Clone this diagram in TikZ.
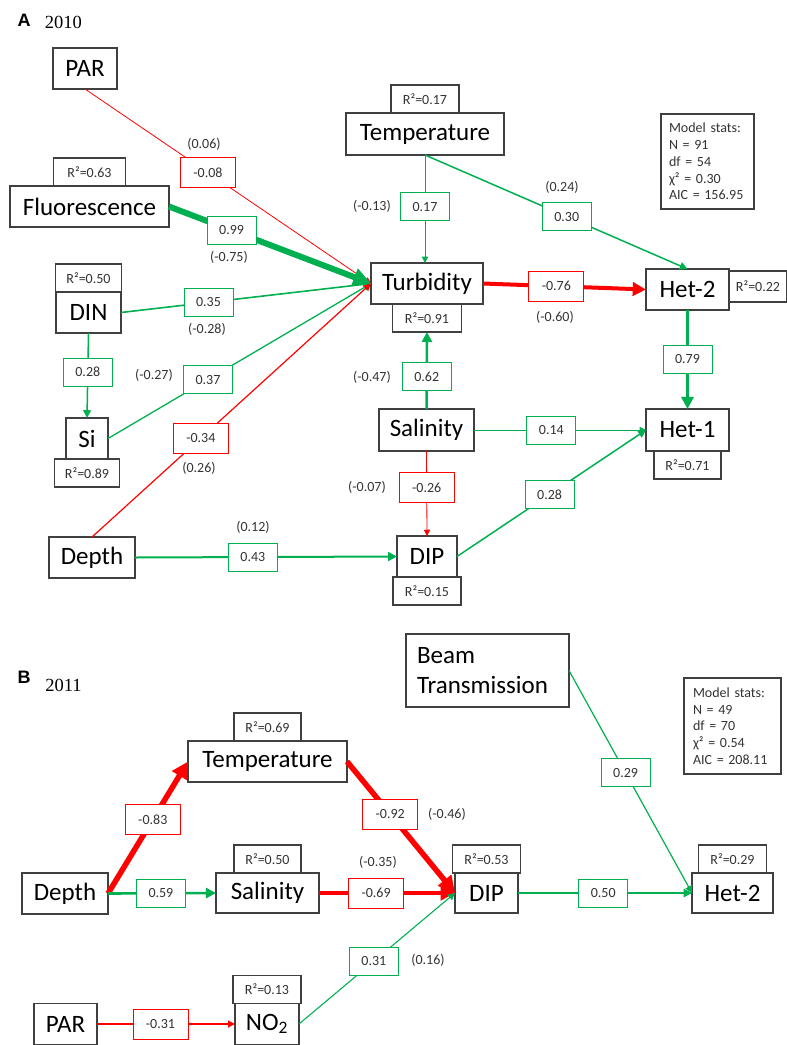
\documentclass[tikz,border=0pt]{standalone}
\usepackage{fontspec}
\setmainfont{Carlito}
\newfontfamily\yearfont{Liberation Serif}
\newfontfamily\panelfont{Liberation Sans}
\usetikzlibrary{arrows.meta,positioning}
\definecolor{pgreen}{RGB}{0,176,80}
\definecolor{pred}{RGB}{255,0,0}
\definecolor{boxline}{RGB}{64,64,64}
\definecolor{numtext}{RGB}{51,51,51}
\tikzset{
  var/.style={draw=boxline,line width=1.2pt,fill=white,inner sep=0pt,outer sep=0pt,minimum height=41pt,font=\fontsize{25}{30}\selectfont},
  rsq/.style={draw=boxline,line width=1.2pt,fill=white,inner sep=0pt,outer sep=0pt,minimum height=28pt,font=\fontsize{14}{16}\selectfont,text=numtext},
  gcoef/.style={draw=pgreen,line width=0.9pt,fill=white,inner sep=0pt,minimum width=49pt,minimum height=28pt,font=\fontsize{14}{16}\selectfont,text=numtext},
  rcoef/.style={gcoef,draw=pred,minimum width=55pt,minimum height=30pt},
  alt/.style={font=\fontsize{14}{16}\selectfont,text=numtext},
  stats/.style={draw=boxline,line width=1.2pt,inner xsep=8pt,text width=77pt,minimum height=95pt,align=left,font=\fontsize{14}{16.8}\selectfont,text=numtext},
  gpath/.style={draw=pgreen,-{Triangle[length=4.5pt 2.2 0,width=4.5pt 2.2 0]}},
  rpath/.style={draw=pred,-{Triangle[length=4.5pt 2.2 0,width=4.5pt 2.2 0]}}
}
\begin{document}
\begin{tikzpicture}[x=1pt,y=-1pt]
  \useasboundingbox (0,0) rectangle (787,1045);

  % panel A
  \node[font=\panelfont\bfseries\fontsize{18}{18}\selectfont] (labA) at (24,20.5) {A};
  \node[font=\yearfont\fontsize{18.5}{18.5}\selectfont] (yearA) at (63.5,22) {2010};

  \node[var,minimum width=64pt] (parA) at (85,68.5) {PAR};
  \node[var,minimum width=159pt] (fluor) at (89.5,206.5) {Fluorescence};
  \node[rsq,minimum width=72pt,above=0pt of fluor] (r2fluor) {R²=0.63};
  \node[var,minimum width=158pt,minimum height=42pt] (temp) at (425,134) {Temperature};
  \node[rsq,minimum width=68pt,above=0pt of temp] (r2temp) {R²=0.17};
  \node[var,minimum width=112pt] (turb) at (427,283.5) {Turbidity};
  \node[rsq,minimum width=69pt,below=0pt of turb] (r2turb) {R²=0.91};
  \node[var,minimum width=83pt] (het2) at (687.5,289.5) {Het-2};
  \node[rsq,minimum width=58pt,minimum height=31pt,right=0pt of het2,yshift=3pt] (r2het2) {R²=0.22};
  \node[var,minimum width=65pt] (din) at (88.5,312.5) {DIN};
  \node[rsq,minimum width=66pt,above=0pt of din] (r2din) {R²=0.50};
  \node[var,minimum width=42pt] (si) at (87,438.5) {Si};
  \node[rsq,minimum width=65pt,below=0pt of si] (r2si) {R²=0.89};
  \node[var,minimum width=86pt] (depthA) at (92,557.5) {Depth};
  \node[var,minimum width=95pt,minimum height=42pt] (sal) at (426.5,430) {Salinity};
  \node[var,minimum width=83pt,minimum height=42pt] (het1) at (687.5,430) {Het-1};
  \node[rsq,minimum width=67pt,below=0pt of het1] (r2het1) {R²=0.71};
  \node[var,minimum width=60pt] (dipA) at (427,556.5) {DIP};
  \node[rsq,minimum width=68pt,below=0pt of dipA] (r2dipA) {R²=0.15};
  \node[stats] (statsA) at (707.5,161.5) {Model stats:\\N = 91\\df = 54\\χ² = 0.30\\AIC = 156.95};

  \draw[rpath,line width=0.8pt] (parA.south) -- node[rcoef,pos=.43] (cParTurb) {-0.08} (turb.west);
  \draw[gpath,line width=6pt] (fluor.east) -- node[gcoef,pos=.31] (cFluTurb) {0.99} (turb.west);
  \draw[gpath,line width=1.6pt] (din.east) -- node[gcoef,pos=.35] (cDinTurb) {0.35} (turb.west);
  \draw[gpath,line width=1.3pt] (si.east) -- node[gcoef,pos=.38] (cSiTurb) {0.37} (turb.west);
  \draw[rpath,line width=1.2pt] (depthA.north) -- node[rcoef,pos=.39] (cDepTurb) {-0.34} (turb.west);
  \draw[gpath,line width=1.5pt] (din.south) -- node[gcoef,pos=.46] (cDinSi) {0.28} (si.north);
  \draw[gpath,line width=0.8pt] (temp.south) -- node[gcoef,pos=.48] (cTempTurb) {0.17} (temp.south |- turb.north);
  \draw[gpath,line width=1.5pt] (temp.south) -- node[gcoef,pos=.54] (cTempHet) {0.30} (het2.north);
  \draw[rpath,line width=4pt] (turb.east) -- node[rcoef,pos=.45] (cTurbHet) {-0.76} (het2.west);
  \draw[gpath,line width=3.5pt] (het2.south) -- node[gcoef,pos=.5] (cHetHet) {0.79} (het1.north);
  \draw[gpath,line width=2.5pt] (sal.north) -- node[gcoef,pos=.42] (cSalTurb) {0.62} (r2turb.south);
  \draw[gpath,line width=0.8pt] (sal.east) -- node[gcoef,pos=.45] (cSalHet) {0.14} (het1.west);
  \draw[rpath,line width=0.8pt] (sal.south) -- node[rcoef,pos=.43] (cSalDip) {-0.26} (dipA.north);
  \draw[gpath,line width=1.5pt] (dipA.east) -- node[gcoef,pos=.49] (cDipHet) {0.28} (het1.west);
  \draw[gpath,line width=2pt] (depthA.east) -- node[gcoef,pos=.45] (cDepDip) {0.43} (dipA.west);

  \node[alt] (aParTurb) at (204,144) {(0.06)};
  \node[alt] (aFluTurb) at (229,257) {(-0.75)};
  \node[alt] (aTempTurb) at (372,206) {(-0.13)};
  \node[alt] (aTempHet) at (562,187) {(0.24)};
  \node[alt] (aTurbHet) at (555,317) {(-0.60)};
  \node[alt] (aDinTurb) at (207,329) {(-0.28)};
  \node[alt] (aSiTurb) at (154,375) {(-0.27)};
  \node[alt] (aDepTurb) at (199,468) {(0.26)};
  \node[alt] (aDepDip) at (253,527) {(0.12)};
  \node[alt] (aSalTurb) at (372,377) {(-0.47)};
  \node[alt] (aSalDip) at (367,487) {(-0.07)};

  % panel B
  \node[font=\panelfont\bfseries\fontsize{18}{18}\selectfont] (labB) at (24,677) {B};
  \node[font=\yearfont\fontsize{18.5}{18.5}\selectfont] (yearB) at (63.5,685) {2011};

  \node[var,minimum width=163pt,minimum height=73pt,text width=141pt,inner xsep=11pt,align=left] (beam) at (487.5,670.5) {Beam\\Transmission};
  \node[stats,text width=79pt,inner xsep=9pt,minimum height=96pt] (statsB) at (732.5,726) {Model stats:\\N = 49\\df = 70\\χ² = 0.54\\AIC = 208.11};
  \node[var,minimum width=159pt] (tempB) at (267.5,761.5) {Temperature};
  \node[rsq,minimum width=67pt,above=0pt of tempB] (r2tempB) {R²=0.69};
  \node[var,minimum width=86pt] (depthB) at (65,893.5) {Depth};
  \node[var,minimum width=103pt,minimum height=40pt] (salB) at (267.5,893) {Salinity};
  \node[rsq,minimum width=67pt,above=0pt of salB] (r2salB) {R²=0.50};
  \node[var,minimum width=63pt,minimum height=40pt] (dipB) at (486.5,893) {DIP};
  \node[rsq,minimum width=68pt,above=0pt of dipB] (r2dipB) {R²=0.53};
  \node[var,minimum width=81pt,minimum height=40pt] (het2B) at (732.5,893) {Het-2};
  \node[rsq,minimum width=68pt,above=0pt of het2B] (r2het2B) {R²=0.29};
  \node[var,minimum width=63pt] (parB) at (65.5,1024) {PAR};
  \node[var,minimum width=64pt] (no2) at (267,1024) {NO\textsubscript{2}};
  \node[rsq,minimum width=68pt,above=0pt of no2] (r2no2) {R²=0.13};

  \draw[rpath,line width=5.5pt] (depthB.east) -- node[rcoef,pos=.56] (cDepTemp) {-0.83} (tempB.west);
  \draw[gpath,line width=2.6pt] (depthB.east) -- node[gcoef,pos=.49] (cDepSal) {0.59} (salB.west);
  \draw[rpath,line width=5.5pt] (tempB.east) -- node[rcoef,pos=.4] (cTempDip) {-0.92} (dipB.west);
  \draw[rpath,line width=4.5pt] (salB.east) -- node[rcoef,pos=.42] (cSalDipB) {-0.69} (dipB.west);
  \draw[gpath,line width=1.1pt] (no2.east) -- node[gcoef,pos=.48] (cNoDip) {0.31} (dipB.west);
  \draw[rpath,line width=1.1pt] (parB.east) -- node[rcoef,pos=.46] (cParNo) {-0.31} (no2.west);
  \draw[gpath,line width=1.2pt] (beam.east) -- node[gcoef,pos=.46] (cBeamHet) {0.29} (het2B.west);
  \draw[gpath,line width=1.8pt] (dipB.east) -- node[gcoef,pos=.49] (cDipHetB) {0.50} (het2B.west);

  \node[alt] (aTempDip) at (447,814) {(-0.46)};
  \node[alt] (aSalDipB) at (378,862) {(-0.35)};
  \node[alt] (aNoDip) at (428,960) {(0.16)};
\end{tikzpicture}
\end{document}
